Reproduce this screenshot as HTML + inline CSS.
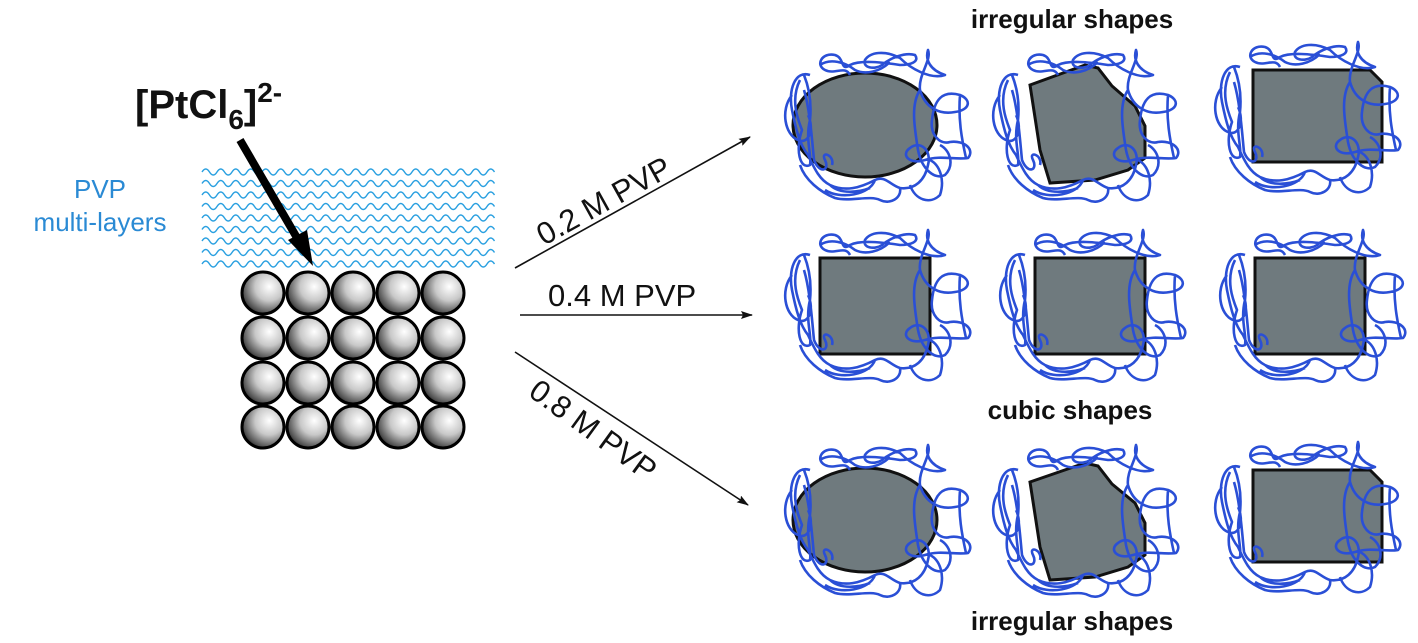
<!DOCTYPE html>
<html><head><meta charset="utf-8"><style>
html,body{margin:0;padding:0;background:#fff;}
svg{display:block;}
</style></head><body>
<svg width="1418" height="643" viewBox="0 0 1418 643" xmlns="http://www.w3.org/2000/svg">
<defs>
<radialGradient id="sg" cx="0.65" cy="0.35" r="0.75">
<stop offset="0" stop-color="#ffffff"/>
<stop offset="0.45" stop-color="#c8c8c8"/>
<stop offset="0.85" stop-color="#505050"/>
<stop offset="1" stop-color="#111"/>
</radialGradient>
<path id="wave" d="M0 0 q3.75 -6 7.5 0 t7.5 0 t7.5 0 t7.5 0 t7.5 0 t7.5 0 t7.5 0 t7.5 0 t7.5 0 t7.5 0 t7.5 0 t7.5 0 t7.5 0 t7.5 0 t7.5 0 t7.5 0 t7.5 0 t7.5 0 t7.5 0 t7.5 0 t7.5 0 t7.5 0 t7.5 0 t7.5 0 t7.5 0 t7.5 0 t7.5 0 t7.5 0 t7.5 0 t7.5 0 t7.5 0 t7.5 0 t7.5 0 t7.5 0 t7.5 0 t7.5 0 t7.5 0 t7.5 0 t7.5 0" fill="none" stroke="#2aa0e0" stroke-width="1.4"/>
<path id="scr" fill="none" stroke="#2a4fd6" stroke-width="2.6" stroke-linejoin="round" d="
M-60 -45 C-75 -50 -82 -30 -78 -10 C-74 10 -70 25 -62 35 C-55 50 -50 60 -40 65 C-25 72 -10 68 5 60 C15 55 20 65 30 68 C45 70 55 60 58 45 C62 30 50 20 40 28 C30 35 40 45 55 40 C70 35 85 40 98 38 C105 30 95 20 80 22 C70 25 60 15 62 0 C64 -20 72 -30 90 -25 C102 -20 100 -10 85 -8 C70 -5 55 -12 50 -30 C48 -45 62 -60 58 -70 C55 -60 60 -50 75 -45 C60 -40 40 -52 30 -62 C15 -70 0 -68 -5 -60 C-8 -52 5 -50 12 -55 C20 -62 35 -68 45 -65 C50 -58 40 -55 30 -55 C10 -58 -10 -60 -20 -55 C-30 -48 -25 -62 -35 -65 C-48 -68 -55 -55 -45 -50 C-35 -45 -25 -55 -20 -45
M-70 -40 C-80 -20 -72 0 -68 10 C-75 30 -70 50 -60 45 C-58 35 -65 20 -60 0 C-58 -20 -62 -35 -66 -45 M-66 -30 C-60 -10 -58 20 -56 40 C-50 55 -40 50 -45 40 C-50 30 -35 35 -38 45
M40 65 C45 80 60 85 70 75 C75 60 70 45 60 40 M5 60 C0 75 -30 80 -45 70 M90 -25 C88 0 92 20 96 38 M-40 65 C-30 75 -10 72 0 68
M-78 -25 C-90 -10 -85 15 -72 20 C-62 25 -55 10 -62 -5 M-50 -55 C-40 -62 -25 -58 -15 -50 C-5 -45 10 -48 20 -58
M50 -30 C40 -15 45 10 48 30 C52 50 65 60 75 55 C85 45 80 30 70 25 M30 68 C32 78 20 85 10 80 C0 75 -20 82 -35 78 C-50 72 -65 60 -70 45"/>
<marker id="ah" markerWidth="12" markerHeight="8" refX="11" refY="4" orient="auto" markerUnits="userSpaceOnUse"><path d="M0 0 L12 4 L0 8 L2 4Z" fill="#111"/></marker>
</defs>

<!-- waves -->
<g>
<use href="#wave" x="202" y="172"/><use href="#wave" x="202" y="183.5"/><use href="#wave" x="202" y="195"/>
<use href="#wave" x="202" y="206.5"/><use href="#wave" x="202" y="218"/><use href="#wave" x="202" y="229.5"/>
<use href="#wave" x="202" y="241"/><use href="#wave" x="202" y="252.5"/><use href="#wave" x="202" y="264"/>
</g>
<rect x="495" y="160" width="40" height="110" fill="#fff"/>

<!-- spheres -->
<g stroke="#000" stroke-width="3" fill="url(#sg)">
<circle cx="263" cy="293" r="21"/><circle cx="308" cy="293" r="21"/><circle cx="353" cy="293" r="21"/><circle cx="398" cy="293" r="21"/><circle cx="443" cy="293" r="21"/>
<circle cx="263" cy="338" r="21"/><circle cx="308" cy="338" r="21"/><circle cx="353" cy="338" r="21"/><circle cx="398" cy="338" r="21"/><circle cx="443" cy="338" r="21"/>
<circle cx="263" cy="383" r="21"/><circle cx="308" cy="383" r="21"/><circle cx="353" cy="383" r="21"/><circle cx="398" cy="383" r="21"/><circle cx="443" cy="383" r="21"/>
<circle cx="263" cy="427" r="21"/><circle cx="308" cy="427" r="21"/><circle cx="353" cy="427" r="21"/><circle cx="398" cy="427" r="21"/><circle cx="443" cy="427" r="21"/>
</g>

<!-- thick arrow -->
<line x1="240" y1="140" x2="300" y2="243" stroke="#000" stroke-width="8"/>
<path d="M313 266 L288 240 L307 230 Z" fill="#000"/>

<text x="135" y="118" font-family="Liberation Sans, sans-serif" font-weight="bold" font-size="40" fill="#111">[PtCl<tspan font-size="28" dy="11">6</tspan><tspan dy="-11">]</tspan><tspan font-size="28" dy="-16">2-</tspan></text>
<text x="100" y="198" text-anchor="middle" font-family="Liberation Sans, sans-serif" font-size="26" fill="#2a8ad4">PVP</text>
<text x="100" y="231" text-anchor="middle" font-family="Liberation Sans, sans-serif" font-size="26" fill="#2a8ad4">multi-layers</text>

<!-- arrows -->
<g stroke="#111" stroke-width="1.6" marker-end="url(#ah)">
<line x1="515" y1="268" x2="750" y2="137"/>
<line x1="520" y1="315" x2="752" y2="315"/>
<line x1="515" y1="352" x2="748" y2="505"/>
</g>
<g font-family="Liberation Sans, sans-serif" font-size="31" fill="#111">
<text transform="translate(544,246) rotate(-29)">0.2 M PVP</text>
<text x="548" y="306">0.4 M PVP</text>
<text transform="translate(527,395) rotate(36)" dy="0">0.8 M PVP</text>
</g>

<g font-family="Liberation Sans, sans-serif" font-weight="bold" font-size="26" fill="#111" text-anchor="middle">
<text x="1072" y="28">irregular shapes</text>
<text x="1070" y="419">cubic shapes</text>
<text x="1072" y="630">irregular shapes</text>
</g>

<!-- particles -->
<g fill="#6f7a7e" stroke="#111" stroke-width="3">
<ellipse cx="865" cy="125" rx="72" ry="52"/>
<path d="M1030 85 L1085 65 L1098 68 L1112 86 L1135 106 L1145 126 L1145 158 L1128 170 L1095 180 L1050 183 L1040 150 Z"/>
<path d="M1253 70 L1370 70 L1382 82 L1382 162 L1253 162 Z"/>
<rect x="820" y="258" width="110" height="96"/>
<rect x="1035" y="258" width="110" height="96"/>
<rect x="1255" y="258" width="110" height="96"/>
<ellipse cx="865" cy="520" rx="72" ry="52"/>
<path d="M1030 482 L1085 463 L1098 466 L1112 484 L1135 503 L1145 523 L1145 555 L1128 567 L1095 577 L1050 580 L1040 547 Z"/>
<path d="M1253 470 L1370 470 L1382 482 L1382 562 L1253 562 Z"/>
</g>
<use href="#scr" x="870" y="120"/>
<use href="#scr" x="1078" y="120"/>
<use href="#scr" x="1300" y="112"/>
<use href="#scr" x="870" y="300"/>
<use href="#scr" x="1085" y="300"/>
<use href="#scr" x="1305" y="300"/>
<use href="#scr" x="870" y="515"/>
<use href="#scr" x="1078" y="515"/>
<use href="#scr" x="1300" y="512"/>
</svg>
</body></html>
